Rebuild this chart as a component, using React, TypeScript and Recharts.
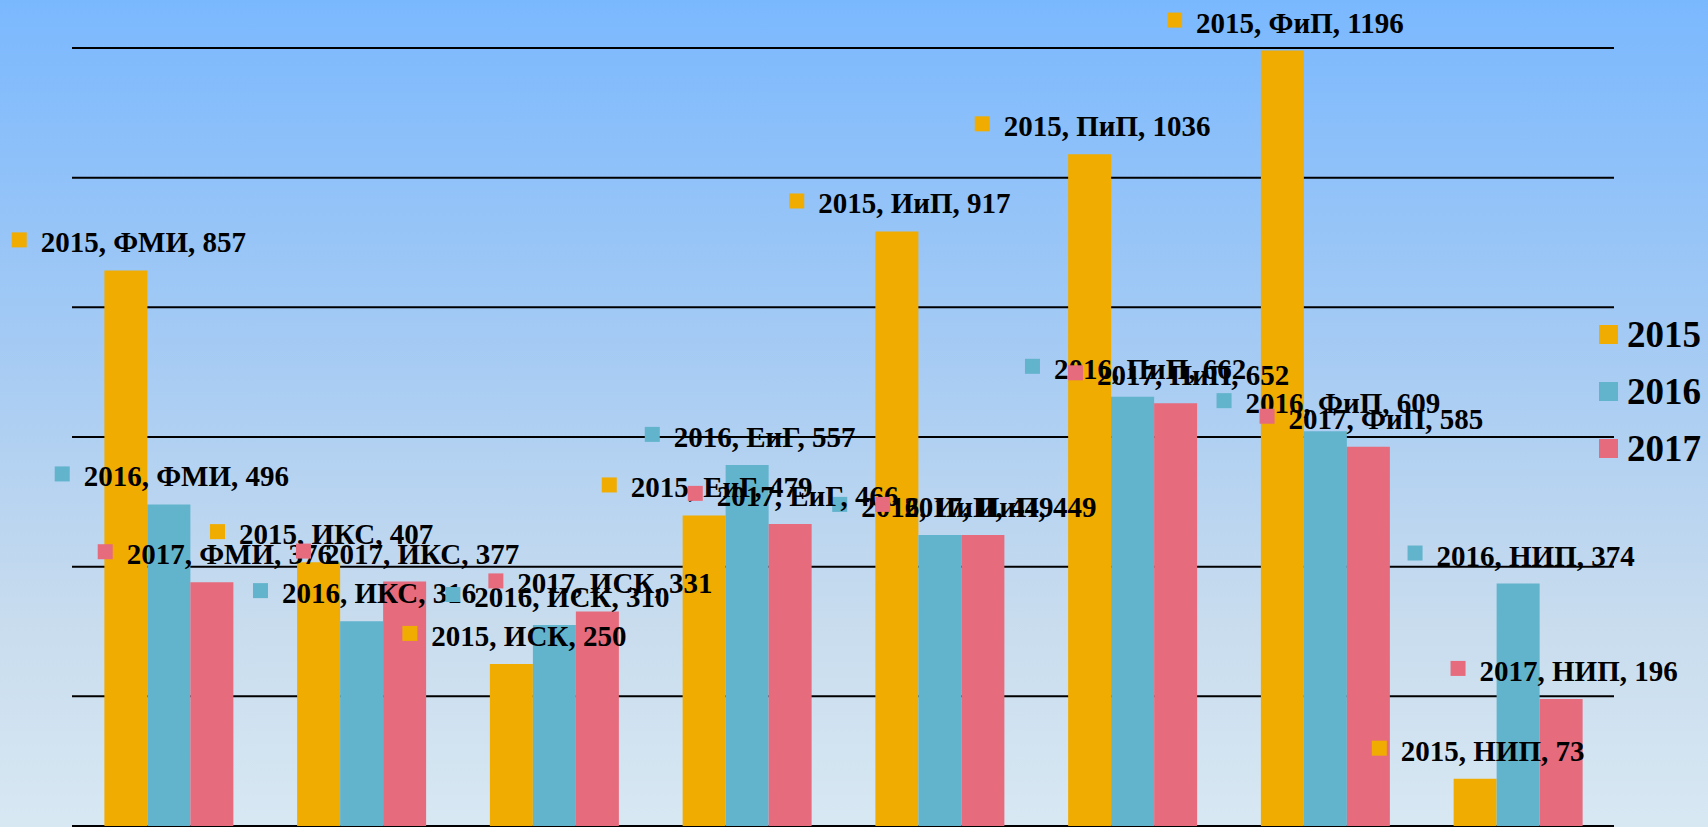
import { BarChart, Bar, XAxis, YAxis, CartesianGrid, LabelList } from "recharts";

const categories = ["ФМИ", "ИКС", "ИСК", "ЕиГ", "ИиП", "ПиП", "ФиП", "НИП"];
const values2015 = [857, 407, 250, 479, 917, 1036, 1196, 73];
const values2016 = [496, 316, 310, 557, 449, 662, 609, 374];
const values2017 = [376, 377, 331, 466, 449, 652, 585, 196];
const yTicks = [0, 200, 400, 600, 800, 1000, 1200];

const series = [
  { key: "y2015", name: "2015", color: "#F0AC00", values: values2015 },
  { key: "y2016", name: "2016", color: "#62B3CC", values: values2016 },
  { key: "y2017", name: "2017", color: "#E66B7D", values: values2017 },
];

const data = categories.map((c, i) => ({
  category: c,
  y2015: values2015[i],
  y2016: values2016[i],
  y2017: values2017[i],
}));

const FONT = "'Liberation Serif', 'Times New Roman', serif";
const LABEL_SIZE = 29;

let ctx: CanvasRenderingContext2D | null = null;
function measure(text: string) {
  if (!ctx) ctx = document.createElement("canvas").getContext("2d");
  if (!ctx) return text.length * LABEL_SIZE * 0.5;
  ctx.font = `bold ${LABEL_SIZE}px 'Liberation Serif'`;
  return ctx.measureText(text).width;
}

function makeLabel(name: string, color: string) {
  return (props: any) => {
    const { x, y, width, value, index } = props;
    const text = `${name}, ${categories[index]}, ${value}`;
    const total = 15 + 14 + measure(text);
    const left = x + width / 2 - total / 2 + 3;
    return (
      <g>
        <rect x={left} y={y - 38} width={15} height={15} fill={color} />
        <text
          x={left + 29}
          y={y - 18}
          fontSize={LABEL_SIZE}
          fontWeight="bold"
          fontFamily={FONT}
          fill="#000"
        >
          {text}
        </text>
      </g>
    );
  };
}

export default function App() {
  return (
    <div
      style={{
        position: "absolute",
        left: 0,
        top: 0,
        width: 1708,
        height: 827,
        background: "linear-gradient(180deg, #7ab8fe 0%, #a8ccf3 45%, #c8dcee 75%, #d8e8f3 100%)",
        overflow: "hidden",
      }}
    >
      <BarChart
        width={1708}
        height={827}
        data={data}
        margin={{ top: 48, right: 94, left: 72, bottom: 1 }}
        barCategoryGap="16.8%"
        barGap={0}
      >
        <CartesianGrid vertical={false} stroke="#000" strokeWidth={2} />
        <XAxis dataKey="category" hide />
        <YAxis hide domain={[0, 1200]} ticks={yTicks} />
        {series.map((s) => (
          <Bar key={s.key} dataKey={s.key} name={s.name} fill={s.color} isAnimationActive={false}>
            <LabelList dataKey={s.key} content={makeLabel(s.name, s.color)} />
          </Bar>
        ))}
      </BarChart>
      <svg
        width={1708}
        height={827}
        style={{ position: "absolute", left: 0, top: 0, pointerEvents: "none" }}
      >
        {series.map((s, i) => (
          <g key={s.key}>
            <rect x={1599} y={325 + i * 57} width={19} height={19} fill={s.color} />
            <text
              x={1627}
              y={347 + i * 57}
              fontSize={37}
              fontWeight="bold"
              fontFamily={FONT}
              fill="#000"
            >
              {s.name}
            </text>
          </g>
        ))}
      </svg>
    </div>
  );
}
